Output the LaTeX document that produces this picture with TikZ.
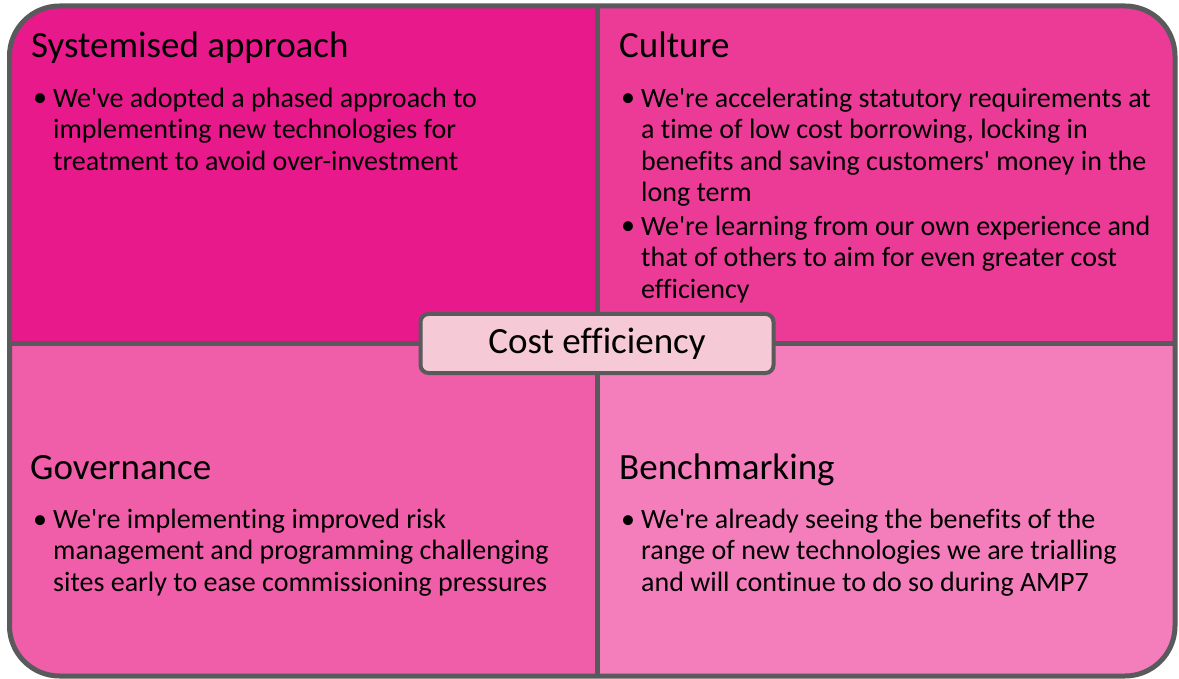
\documentclass[tikz,border=0pt]{standalone}
\usepackage{fontspec}
\setmainfont{Carlito}[Ligatures={NoCommon,TeXOff}]
\usetikzlibrary{positioning}

\definecolor{edgegrey}{HTML}{595A5C}
\definecolor{quadTL}{HTML}{E8198B}
\definecolor{quadTR}{HTML}{EB3B96}
\definecolor{quadBL}{HTML}{F05DA8}
\definecolor{quadBR}{HTML}{F37EBB}
\definecolor{centrefill}{HTML}{F5C9D6}

\tikzset{
  heading/.style={anchor=base west, inner sep=0pt, font=\fontsize{37}{44}\selectfont},
  bodytext/.style={anchor=north west, inner sep=0pt, align=left, font=\fontsize{28}{31.5}\selectfont},
  bulletdot/.style={anchor=base, inner sep=0pt, font=\fontsize{28}{31.5}\selectfont},
}

\begin{document}
\begin{tikzpicture}[x=1pt, y=-1pt]
  \useasboundingbox (0,0) rectangle (1179,679);

  \begin{scope}
    \clip[rounded corners=50pt] (9.5,6) rectangle (1175,676);
    \fill[quadTL] (0,0) rectangle (597,343.5);
    \fill[quadTR] (597,0) rectangle (1179,343.5);
    \fill[quadBL] (0,343.5) rectangle (597,679);
    \fill[quadBR] (597,343.5) rectangle (1179,679);
  \end{scope}

  \draw[edgegrey, line width=5pt] (597,6) -- (597,676);
  \draw[edgegrey, line width=5pt] (9.5,343.5) -- (1175,343.5);
  \draw[edgegrey, line width=5pt, rounded corners=50pt] (9.5,6) rectangle (1175,676);

  % top left
  \node[heading] (sys) at (31,58) {Systemised approach};
  \node[bulletdot] (sysb) at (40,107) {\textbullet};
  \node[bodytext] (syst) at (53,107-22) {\strut We've adopted a phased approach to\\implementing new technologies for\\treatment to avoid over-investment};

  % top right
  \node[heading] (cul) at (619,58) {Culture};
  \node[bulletdot] (culb1) at (628,107) {\textbullet};
  \node[bodytext] (cult1) at (641,107-22) {\strut We're accelerating statutory requirements at\\a time of low cost borrowing, locking in\\benefits and saving customers' money in the\\long term};
  \node[bulletdot] (culb2) at (628,235) {\textbullet};
  \node[bodytext] (cult2) at (641,235-22) {\strut We're learning from our own experience and\\that of others to aim for even greater cost\\efficiency};

  % bottom left
  \node[heading] (gov) at (30,479) {Governance};
  \node[bulletdot] (govb) at (40,528) {\textbullet};
  \node[bodytext] (govt) at (53,528-22) {\strut We're implementing improved risk\\management and programming challenging\\sites early to ease commissioning pressures};

  % bottom right
  \node[heading] (ben) at (619,479) {Benchmarking};
  \node[bulletdot] (benb) at (628,528) {\textbullet};
  \node[bodytext] (bent) at (641,528-22) {\strut We're already seeing the benefits of the\\range of new technologies we are trialling\\and will continue to do so during AMP7};

  \node[draw=edgegrey, line width=4pt, fill=centrefill, rounded corners=8pt,
        minimum width=353pt, minimum height=59pt, inner sep=0pt,
        font=\fontsize{37}{44}\selectfont] (cost) at (597,343.5) {Cost efficiency};
\end{tikzpicture}
\end{document}
